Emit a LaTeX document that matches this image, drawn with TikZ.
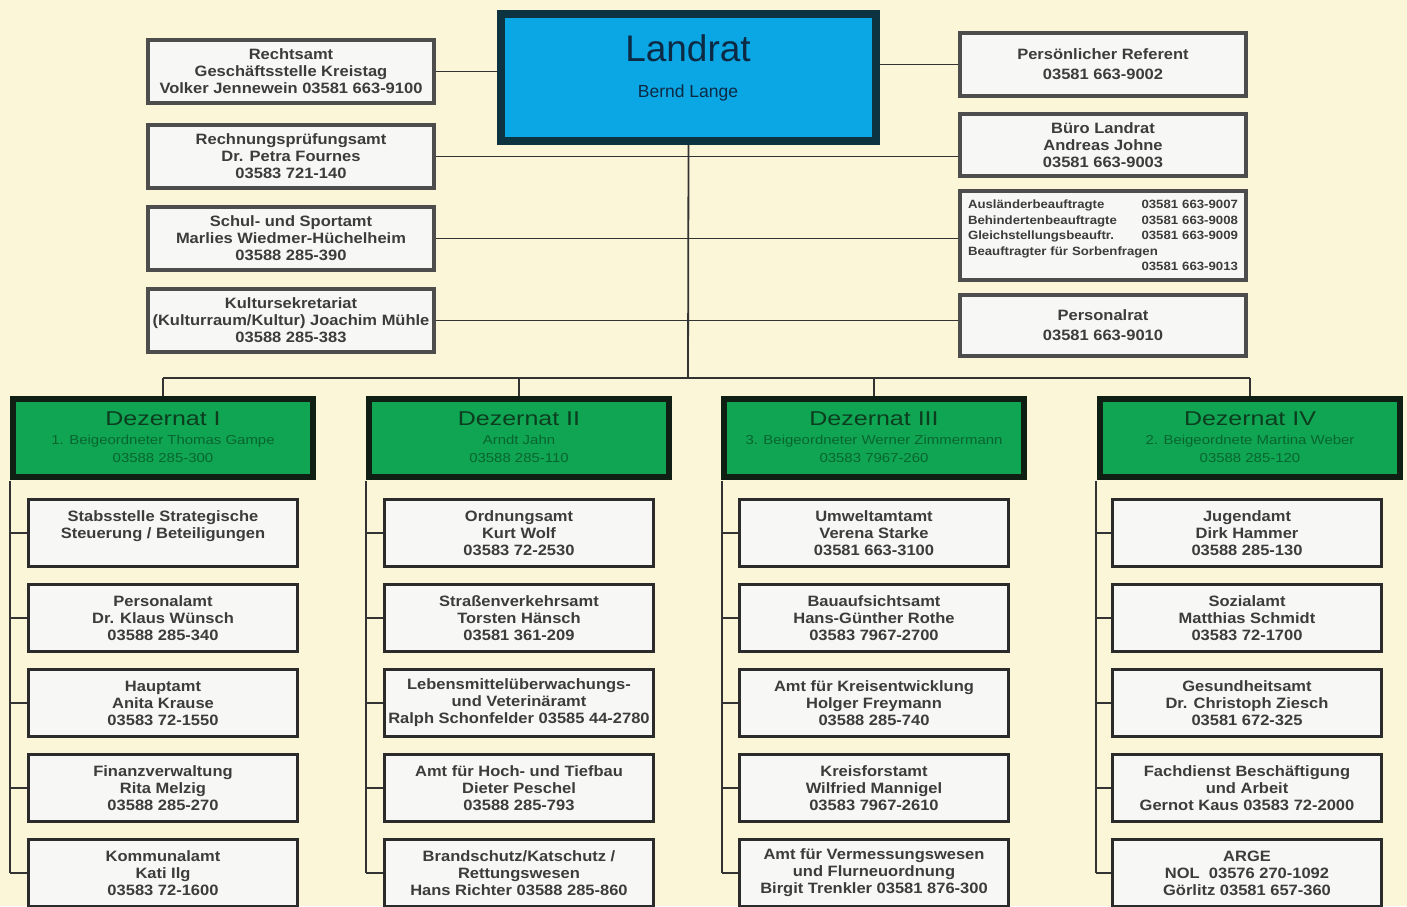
\documentclass[tikz,border=0pt]{standalone}
\usepackage{fontspec}
\setmainfont{Liberation Sans}
\newfontfamily\boxfont{Liberation Sans}[FakeStretch=1.1]
\newfontfamily\dzfont{Liberation Sans}[FakeStretch=1.25]
\newfontfamily\subfont{Liberation Sans}[FakeStretch=1.15]
\definecolor{bg}{HTML}{FCF6D8}
\definecolor{boxfill}{HTML}{F7F7F5}
\definecolor{topframe}{HTML}{4D4D4D}
\definecolor{colframe}{HTML}{2B2B2B}
\definecolor{txt}{HTML}{3C3C3C}
\definecolor{landfill}{HTML}{0AA7E4}
\definecolor{landframe}{HTML}{0E3340}
\definecolor{landtext}{HTML}{0D2A45}
\definecolor{dzgreen}{HTML}{10A552}
\definecolor{dzframe}{HTML}{0F1F14}
\definecolor{dztext}{HTML}{0B3D1E}
\definecolor{dzsubtext}{HTML}{086530}
\definecolor{lines}{HTML}{333333}
\begin{document}
\begin{tikzpicture}[x=1pt,y=-1pt,
  topbox/.style={draw=topframe, line width=4pt, fill=boxfill, minimum width=286pt, inner sep=0pt,
    font=\boxfont\bfseries\fontsize{15}{17}\selectfont, text=txt, align=center},
  colbox/.style={draw=colframe, line width=3pt, fill=boxfill, minimum width=269pt, minimum height=67pt,
    inner sep=0pt, font=\boxfont\bfseries\fontsize{15}{17}\selectfont, text=txt, align=center},
  landbox/.style={draw=landframe, line width=8pt, fill=landfill, minimum width=375pt, minimum height=127pt},
  dz/.style={draw=dzframe, line width=6pt, fill=dzgreen, minimum width=300pt, minimum height=78pt},
  dztitle/.style={font=\dzfont\fontsize{20}{22}\selectfont, text=dztext, inner sep=0pt},
  dzsub/.style={font=\subfont\fontsize{13}{18}\selectfont, text=dzsubtext, align=center, inner sep=0pt},
  conn/.style={draw=lines, line width=1.8pt}]
\useasboundingbox (0,0) rectangle (1407,906);
\clip (0,0) rectangle (1407,906);
\fill[bg] (0,0) rectangle (1407,906);

% Landrat
\node[landbox] (L) at (688.5,77.5) {};
\node[font=\fontsize{37}{40}\selectfont, text=landtext, inner sep=0pt] (Lt) at (688,48) {Landrat};
\node[font=\fontsize{17.5}{20}\selectfont, text=landtext, inner sep=0pt] (Ln) at (688,93) {Bernd Lange};

% left staff boxes
\node[topbox, minimum height=63pt] (ra) at (291,71.5) {Rechtsamt\\Geschäftsstelle Kreistag\\Volker Jennewein 03581 663-9100};
\node[topbox, minimum height=63pt] (rp) at (291,156.5) {Rechnungsprüfungsamt\\Dr. Petra Fournes\\03583 721-140};
\node[topbox, minimum height=63pt] (sa) at (291,238.5) {Schul- und Sportamt\\Marlies Wiedmer-Hüchelheim\\03588 285-390};
\node[topbox, minimum height=63pt] (ks) at (291,320.5) {Kultursekretariat\\(Kulturraum/Kultur) Joachim Mühle\\03588 285-383};

% right staff boxes
\node[topbox, minimum height=63pt] (pr) at (1103,64.5) {Persönlicher Referent\\[3pt]03581 663-9002};
\node[topbox, minimum height=62pt] (bl) at (1103,145) {Büro Landrat\\Andreas Johne\\03581 663-9003};
\node[topbox, minimum height=89pt, text width=270pt, align=left,
  font=\boxfont\bfseries\fontsize{12}{15.5}\selectfont] (bb) at (1103,235.5)
  {Ausländerbeauftragte\hfill 03581 663-9007\\
   Behindertenbeauftragte\hfill 03581 663-9008\\
   Gleichstellungsbeauftr.\hfill 03581 663-9009\\
   Beauftragter für Sorbenfragen\hfill\mbox{}\\
   \mbox{}\hfill 03581 663-9013};
\node[topbox, minimum height=61pt] (prat) at (1103,325.5) {Personalrat\\[3pt]03581 663-9010};

% Dezernate
\node[dz] (d1) at (163,438) {};
\node[dz] (d2) at (519,438) {};
\node[dz] (d3) at (874,438) {};
\node[dz] (d4) at (1250,438) {};
\node[dztitle] (d1t) at (163,419) {Dezernat I};
\node[dztitle] (d2t) at (519,419) {Dezernat II};
\node[dztitle] (d3t) at (874,419) {Dezernat III};
\node[dztitle] (d4t) at (1250,419) {Dezernat IV};
\node[dzsub] (d1s) at (163,449) {1. Beigeordneter Thomas Gampe\\03588 285-300};
\node[dzsub] (d2s) at (519,449) {Arndt Jahn\\03588 285-110};
\node[dzsub] (d3s) at (874,449) {3. Beigeordneter Werner Zimmermann\\03583 7967-260};
\node[dzsub] (d4s) at (1250,449) {2. Beigeordnete Martina Weber\\03588 285-120};

% Column I
\node[colbox] (a1) at (163,533) {Stabsstelle Strategische\\Steuerung / Beteiligungen\\~};
\node[colbox] (a2) at (163,618) {Personalamt\\Dr. Klaus Wünsch\\03588 285-340};
\node[colbox] (a3) at (163,703) {Hauptamt\\Anita Krause\\03583 72-1550};
\node[colbox] (a4) at (163,788) {Finanzverwaltung\\Rita Melzig\\03588 285-270};
\node[colbox] (a5) at (163,873) {Kommunalamt\\Kati Ilg\\03583 72-1600};
% Column II
\node[colbox] (b1) at (519,533) {Ordnungsamt\\Kurt Wolf\\03583 72-2530};
\node[colbox] (b2) at (519,618) {Straßenverkehrsamt\\Torsten Hänsch\\03581 361-209};
\node[colbox] (b3) at (519,703) {Lebensmittelüberwachungs-\\und Veterinäramt\\Ralph Schonfelder 03585 44-2780};
\node[colbox] (b4) at (519,788) {Amt für Hoch- und Tiefbau\\Dieter Peschel\\03588 285-793};
\node[colbox] (b5) at (519,873) {Brandschutz/Katschutz /\\Rettungswesen\\Hans Richter 03588 285-860};
% Column III
\node[colbox] (c1) at (874,533) {Umweltamtamt\\Verena Starke\\03581 663-3100};
\node[colbox] (c2) at (874,618) {Bauaufsichtsamt\\Hans-Günther Rothe\\03583 7967-2700};
\node[colbox] (c3) at (874,703) {Amt für Kreisentwicklung\\Holger Freymann\\03588 285-740};
\node[colbox] (c4) at (874,788) {Kreisforstamt\\Wilfried Mannigel\\03583 7967-2610};
\node[colbox] (c5) at (874,873) {Amt für Vermessungswesen\\und Flurneuordnung\\Birgit Trenkler 03581 876-300};
% Column IV
\node[colbox] (e1) at (1247,533) {Jugendamt\\Dirk Hammer\\03588 285-130};
\node[colbox] (e2) at (1247,618) {Sozialamt\\Matthias Schmidt\\03583 72-1700};
\node[colbox] (e3) at (1247,703) {Gesundheitsamt\\Dr. Christoph Ziesch\\03581 672-325};
\node[colbox] (e4) at (1247,788) {Fachdienst Beschäftigung\\und Arbeit\\Gernot Kaus 03583 72-2000};
\node[colbox] (e5) at (1247,873) {ARGE\\NOL\ \ 03576 270-1092\\Görlitz 03581 657-360};

% connectors at the top
\coordinate (bus) at (688,378);
\draw[conn] (L.south) -- (bus);
\draw[conn] (d1.north |- bus) -- (d4.north |- bus);
\draw[conn] (d1.north |- bus) -- (d1.north);
\draw[conn] (d2.north |- bus) -- (d2.north);
\draw[conn] (d3.north |- bus) -- (d3.north);
\draw[conn] (d4.north |- bus) -- (d4.north);
\draw[conn] (ra.east) -- (L.west |- ra.east);
\draw[conn] (L.east |- pr.west) -- (pr.west);
\draw[conn] (rp.east) -- (rp.east -| bl.west);
\draw[conn] (sa.east) -- (sa.east -| bb.west);
\draw[conn] (ks.east) -- (ks.east -| prat.west);

% column connectors
\coordinate (k1) at (10,481);
\coordinate (k2) at (366,481);
\coordinate (k3) at (722,481);
\coordinate (k4) at (1096,481);
\draw[conn] (k1) -- (k1 |- a5.west);
\draw[conn] (k2) -- (k2 |- b5.west);
\draw[conn] (k3) -- (k3 |- c5.west);
\draw[conn] (k4) -- (k4 |- e5.west);
\foreach \n in {a1,a2,a3,a4,a5} \draw[conn] (k1 |- \n.west) -- (\n.west);
\foreach \n in {b1,b2,b3,b4,b5} \draw[conn] (k2 |- \n.west) -- (\n.west);
\foreach \n in {c1,c2,c3,c4,c5} \draw[conn] (k3 |- \n.west) -- (\n.west);
\foreach \n in {e1,e2,e3,e4,e5} \draw[conn] (k4 |- \n.west) -- (\n.west);
\end{tikzpicture}
\end{document}
